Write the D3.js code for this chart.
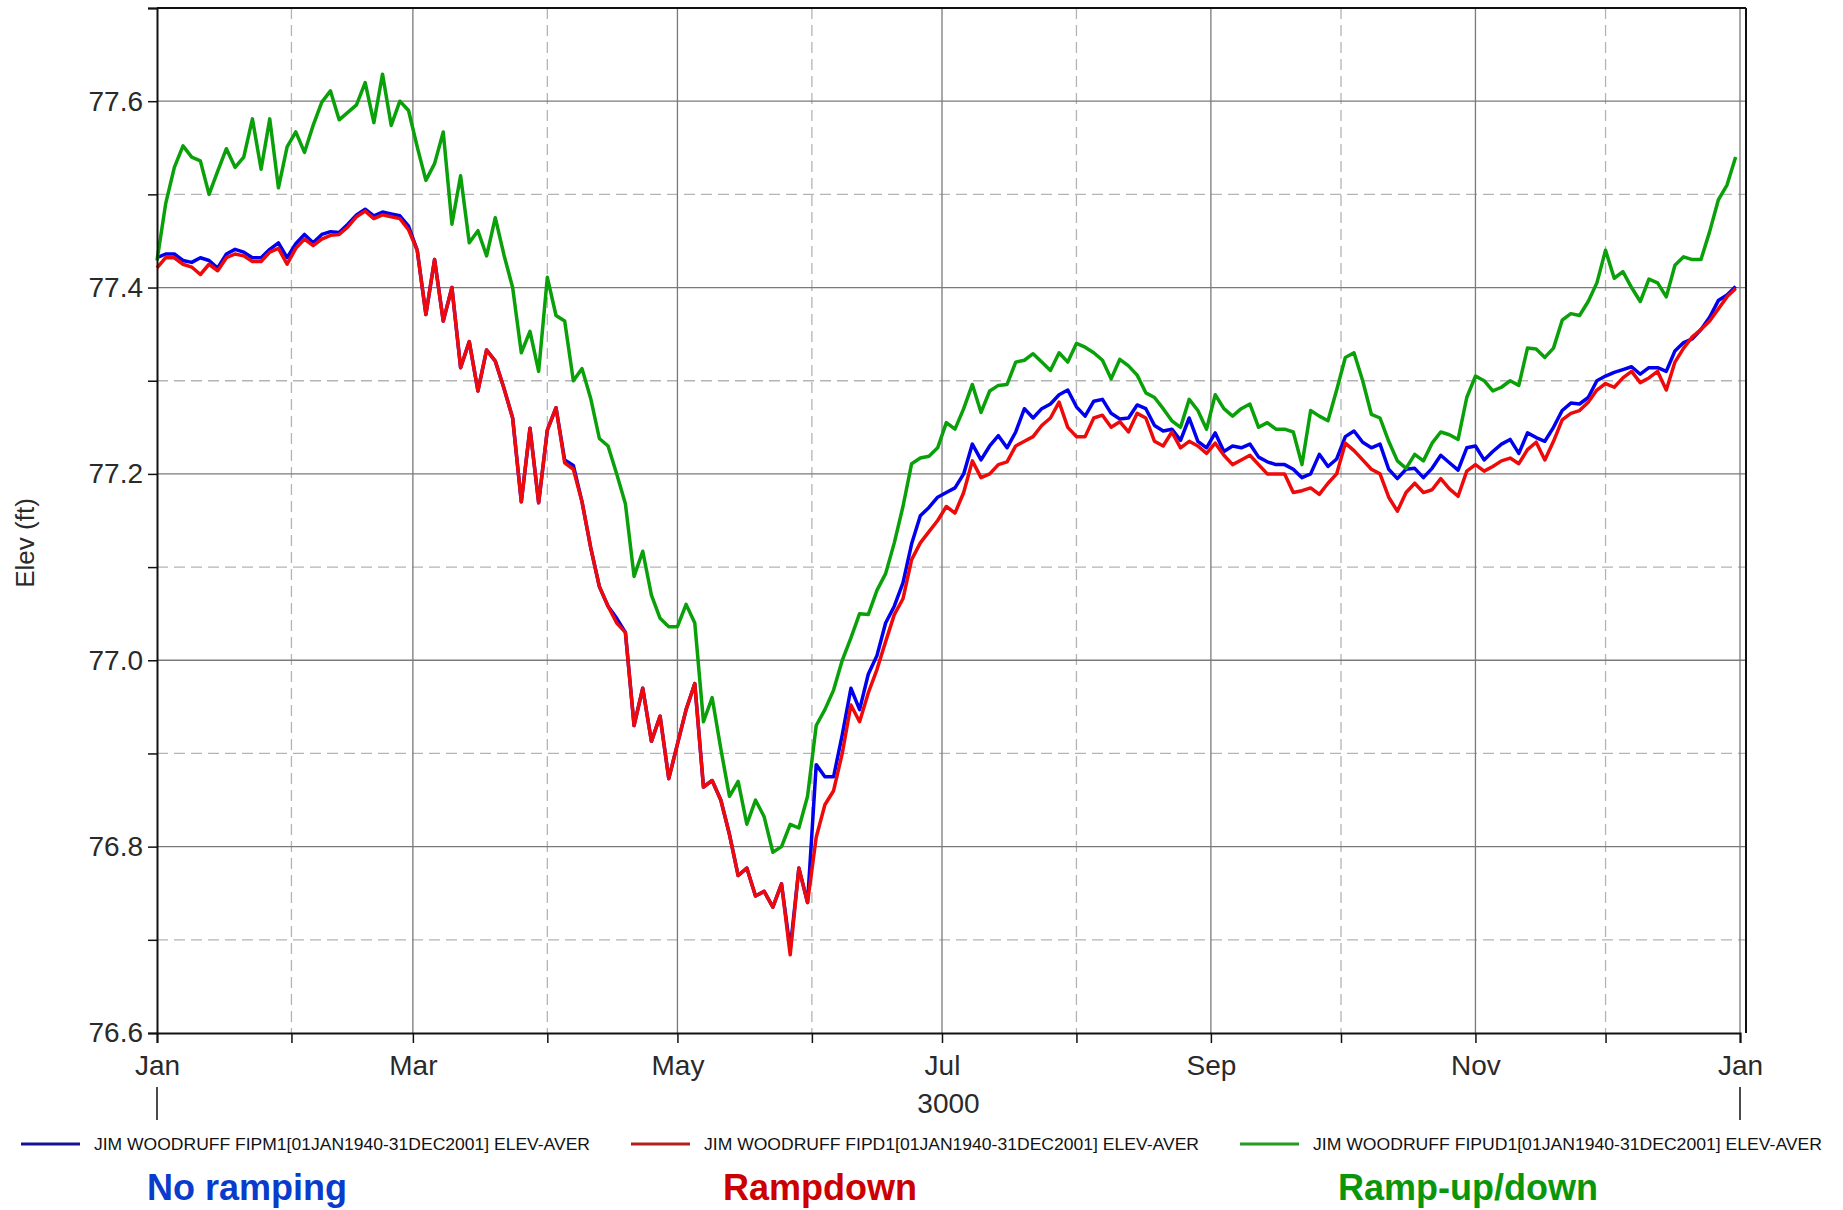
<!DOCTYPE html>
<html lang="en">
<head>
    <meta charset="UTF-8">
    <title>Jim Woodruff elevation</title>
    <script src="https://d3js.org/d3.v7.min.js"></script>

    <style>
        body {
            margin: 0;
            background: #ffffff;
            font-family: "Liberation Sans", Arial, sans-serif;
        }

        svg {
            display: block;
        }

        .tick text {
            font-size: 28px;
            fill: #2a2a2a;
        }
    </style>
</head>
<body>

    <div id="container"></div>

    <script>

        // ---- data (one value every 2 days, 01Jan..31Dec) ----
        const startDate = new Date(3000, 0, 1);
        const dayStep = 2;

        // No ramping (FIPM1)
        const noRamping = [
            77.432, 77.436, 77.436, 77.429, 77.427, 77.432, 77.429, 77.421, 77.436, 77.441,
            77.438, 77.432, 77.432, 77.441, 77.448, 77.432, 77.447, 77.457, 77.448, 77.457,
            77.460, 77.459, 77.468, 77.478, 77.484, 77.477, 77.481, 77.479, 77.477, 77.466,
            77.440, 77.371, 77.430, 77.364, 77.400, 77.314, 77.342, 77.289, 77.333, 77.321,
            77.292, 77.260, 77.170, 77.249, 77.169, 77.247, 77.271, 77.215, 77.209, 77.170,
            77.121, 77.079, 77.058, 77.045, 77.030, 76.930, 76.970, 76.913, 76.940, 76.873,
            76.910, 76.947, 76.975, 76.864, 76.871, 76.850, 76.813, 76.769, 76.777, 76.747,
            76.752, 76.735, 76.760, 76.690, 76.777, 76.740, 76.888, 76.875, 76.875, 76.920,
            76.970, 76.947, 76.985, 77.005, 77.040, 77.058, 77.083, 77.125, 77.155, 77.164,
            77.175, 77.180, 77.185, 77.200, 77.232, 77.215, 77.230, 77.241, 77.228, 77.245,
            77.270, 77.260, 77.270, 77.275, 77.285, 77.290, 77.272, 77.262, 77.278, 77.280,
            77.265, 77.259, 77.260, 77.274, 77.270, 77.252, 77.246, 77.248, 77.236, 77.260,
            77.235, 77.228, 77.244, 77.224, 77.230, 77.228, 77.232, 77.218, 77.213, 77.210,
            77.210, 77.205, 77.196, 77.200, 77.221, 77.208, 77.216, 77.240, 77.246, 77.234,
            77.228, 77.232, 77.205, 77.195, 77.205, 77.206, 77.196, 77.206, 77.220, 77.212,
            77.204, 77.228, 77.230, 77.215, 77.224, 77.232, 77.237, 77.222, 77.244, 77.239,
            77.235, 77.250, 77.268, 77.276, 77.275, 77.282, 77.300, 77.305, 77.309, 77.312,
            77.315, 77.307, 77.314, 77.314, 77.310, 77.332, 77.341, 77.345, 77.355, 77.368,
            77.386, 77.392, 77.401
        ];

        // Rampdown (FIPD1)
        const rampdown = [
            77.421, 77.432, 77.432, 77.425, 77.422, 77.414, 77.425, 77.418, 77.432, 77.436,
            77.434, 77.428, 77.428, 77.438, 77.442, 77.425, 77.442, 77.452, 77.445, 77.452,
            77.456, 77.457, 77.465, 77.476, 77.482, 77.474, 77.478, 77.476, 77.474, 77.462,
            77.440, 77.371, 77.430, 77.364, 77.400, 77.314, 77.342, 77.289, 77.333, 77.321,
            77.292, 77.260, 77.170, 77.249, 77.169, 77.247, 77.271, 77.212, 77.205, 77.170,
            77.121, 77.079, 77.058, 77.040, 77.030, 76.930, 76.970, 76.913, 76.940, 76.873,
            76.910, 76.947, 76.975, 76.864, 76.871, 76.850, 76.813, 76.769, 76.777, 76.747,
            76.752, 76.735, 76.760, 76.684, 76.777, 76.740, 76.810, 76.845, 76.860, 76.900,
            76.952, 76.934, 76.965, 76.990, 77.020, 77.049, 77.066, 77.108, 77.126, 77.138,
            77.150, 77.165, 77.158, 77.180, 77.214, 77.196, 77.200, 77.210, 77.213, 77.230,
            77.235, 77.240, 77.252, 77.260, 77.277, 77.250, 77.240, 77.240, 77.260, 77.263,
            77.250, 77.256, 77.245, 77.265, 77.260, 77.235, 77.230, 77.245, 77.228, 77.235,
            77.230, 77.222, 77.233, 77.220, 77.210, 77.215, 77.220, 77.210, 77.200, 77.200,
            77.200, 77.180, 77.182, 77.185, 77.178, 77.190, 77.200, 77.233, 77.225, 77.215,
            77.205, 77.200, 77.175, 77.160, 77.180, 77.190, 77.180, 77.183, 77.195, 77.184,
            77.176, 77.203, 77.210, 77.203, 77.208, 77.214, 77.217, 77.211, 77.226, 77.234,
            77.215, 77.235, 77.258, 77.265, 77.268, 77.277, 77.290, 77.297, 77.293, 77.303,
            77.310, 77.298, 77.303, 77.310, 77.290, 77.320, 77.335, 77.347, 77.355, 77.364,
            77.377, 77.390, 77.399
        ];

        // Ramp-up/down (FIPUD1)
        const rampUpDown = [
            77.429, 77.490, 77.529, 77.552, 77.540, 77.536, 77.500, 77.525, 77.549, 77.529,
            77.540, 77.581, 77.527, 77.581, 77.507, 77.551, 77.567, 77.545, 77.574, 77.599,
            77.611, 77.580, 77.588, 77.596, 77.620, 77.577, 77.629, 77.574, 77.600, 77.590,
            77.551, 77.515, 77.533, 77.567, 77.468, 77.520, 77.448, 77.461, 77.434, 77.475,
            77.435, 77.400, 77.330, 77.353, 77.310, 77.411, 77.370, 77.364, 77.300, 77.313,
            77.281, 77.238, 77.230, 77.200, 77.168, 77.090, 77.117, 77.070, 77.045, 77.036,
            77.036, 77.060, 77.040, 76.934, 76.960, 76.905, 76.854, 76.870, 76.824, 76.850,
            76.832, 76.794, 76.800, 76.824, 76.820, 76.854, 76.930, 76.947, 76.968, 77.000,
            77.024, 77.050, 77.049, 77.075, 77.093, 77.126, 77.165, 77.211, 77.217, 77.219,
            77.228, 77.255, 77.248, 77.270, 77.296, 77.266, 77.289, 77.295, 77.296, 77.320,
            77.322, 77.329, 77.320, 77.311, 77.330, 77.320, 77.340, 77.336, 77.330, 77.322,
            77.302, 77.323, 77.316, 77.306, 77.287, 77.282, 77.270, 77.257, 77.250, 77.280,
            77.268, 77.248, 77.285, 77.270, 77.262, 77.270, 77.275, 77.250, 77.255, 77.248,
            77.248, 77.245, 77.210, 77.268, 77.262, 77.257, 77.290, 77.325, 77.330, 77.300,
            77.264, 77.260, 77.235, 77.214, 77.206, 77.221, 77.214, 77.233, 77.245, 77.242,
            77.237, 77.282, 77.305, 77.300, 77.289, 77.293, 77.300, 77.295, 77.335, 77.334,
            77.325, 77.335, 77.365, 77.372, 77.370, 77.385, 77.405, 77.440, 77.410, 77.417,
            77.400, 77.385, 77.409, 77.405, 77.390, 77.424, 77.433, 77.430, 77.430, 77.460,
            77.494, 77.510, 77.540
        ];

        const seriesNames = [
            'JIM WOODRUFF FIPM1[01JAN1940-31DEC2001] ELEV-AVER',
            'JIM WOODRUFF FIPD1[01JAN1940-31DEC2001] ELEV-AVER',
            'JIM WOODRUFF FIPUD1[01JAN1940-31DEC2001] ELEV-AVER'
        ];
        const captions = ['No ramping', 'Rampdown', 'Ramp-up/down'];

        // tick values
        const yLabelTicks = [76.6, 76.8, 77.0, 77.2, 77.4, 77.6];
        const yMinorTicks = [76.7, 76.9, 77.1, 77.3, 77.5, 77.7];
        const xLabelMonths = [0, 2, 4, 6, 8, 10, 12];
        const xMinorMonths = [1, 3, 5, 7, 9, 11];
        const yearLabel = '3000';

        // ---- layout ----
        const width = 1843, height = 1210;
        const plotLeft = 157, plotRight = 1740, frameRight = 1746;
        const plotTop = 8, plotBottom = 1033;

        const svg = d3.select('#container').append('svg')
            .attr('width', width)
            .attr('height', height);

        svg.append('rect')
            .attr('width', width).attr('height', height)
            .attr('fill', '#ffffff');

        // scales
        const x = d3.scaleTime()
            .domain([startDate, new Date(3001, 0, 1)])
            .range([plotLeft, plotRight]);

        const y = d3.scaleLinear()
            .domain([76.6, 77.7])
            .range([plotBottom, plotTop]);

        const monthDate = m => new Date(3000, m, 1);

        // grid - dashed ones first, then solid
        const grid = svg.append('g');

        grid.selectAll('.hdash')
            .data(yMinorTicks.filter(v => v < 77.7))
            .enter().append('line')
            .attr('x1', plotLeft).attr('x2', frameRight)
            .attr('y1', d => y(d)).attr('y2', d => y(d))
            .attr('stroke', '#b4b4b4').attr('stroke-width', 1.3)
            .attr('stroke-dasharray', '11,6');

        grid.selectAll('.vdash')
            .data(xMinorMonths)
            .enter().append('line')
            .attr('x1', d => x(monthDate(d))).attr('x2', d => x(monthDate(d)))
            .attr('y1', plotTop).attr('y2', plotBottom)
            .attr('stroke', '#b4b4b4').attr('stroke-width', 1.3)
            .attr('stroke-dasharray', '11,6');

        grid.selectAll('.hsolid')
            .data(yLabelTicks.filter(v => v > 76.6))
            .enter().append('line')
            .attr('x1', plotLeft).attr('x2', frameRight)
            .attr('y1', d => y(d)).attr('y2', d => y(d))
            .attr('stroke', '#7a7a7a').attr('stroke-width', 1.3);

        grid.selectAll('.vsolid')
            .data(xLabelMonths.filter(m => m > 0))
            .enter().append('line')
            .attr('x1', d => x(monthDate(d))).attr('x2', d => x(monthDate(d)))
            .attr('y1', plotTop).attr('y2', plotBottom)
            .attr('stroke', '#7a7a7a').attr('stroke-width', 1.3);

        // series
        const series = [
            { values: noRamping, color: '#0000ee', legend: '#141496', caption: '#0a3ccc' },
            { values: rampdown, color: '#ee0a0a', legend: '#b41e1e', caption: '#cc0000' },
            { values: rampUpDown, color: '#0aa00a', legend: '#259a25', caption: '#0a960a' }
        ];

        const line = d3.line()
            .x(d => x(d.date))
            .y(d => y(d.v));

        series.forEach(s => {
            const pts = s.values.map((v, i) => ({
                date: d3.timeDay.offset(startDate, i * dayStep),
                v: v
            }));
            svg.append('path')
                .datum(pts)
                .attr('d', line)
                .attr('fill', 'none')
                .attr('stroke', s.color)
                .attr('stroke-width', 3.5)
                .attr('stroke-linejoin', 'round');
        });

        // frame (top + right)
        svg.append('line')
            .attr('x1', plotLeft).attr('x2', frameRight)
            .attr('y1', plotTop).attr('y2', plotTop)
            .attr('stroke', '#111').attr('stroke-width', 2);
        svg.append('line')
            .attr('x1', frameRight).attr('x2', frameRight)
            .attr('y1', plotTop).attr('y2', plotBottom)
            .attr('stroke', '#111').attr('stroke-width', 2);

        // y axis
        svg.append('g')
            .attr('transform', `translate(${plotLeft},0)`)
            .call(d3.axisLeft(y)
                .tickValues(yLabelTicks)
                .tickFormat(d3.format('.1f'))
                .tickSize(9)
                .tickPadding(5));
        svg.append('g')
            .attr('transform', `translate(${plotLeft},0)`)
            .call(d3.axisLeft(y).tickValues(yMinorTicks).tickFormat('').tickSize(9))
            .select('.domain').remove();

        // x axis
        svg.append('g')
            .attr('transform', `translate(0,${plotBottom})`)
            .call(d3.axisBottom(x)
                .tickValues(xLabelMonths.map(monthDate))
                .tickFormat(d3.timeFormat('%b'))
                .tickSize(10)
                .tickPadding(12));
        svg.append('g')
            .attr('transform', `translate(0,${plotBottom})`)
            .call(d3.axisBottom(x).tickValues(xMinorMonths.map(monthDate)).tickFormat('').tickSize(10))
            .select('.domain').remove();

        svg.selectAll('.domain').attr('stroke', '#111').attr('stroke-width', 2);
        svg.selectAll('.tick line').attr('stroke', '#111').attr('stroke-width', 1.5);

        // year label and year separators
        svg.append('text')
            .attr('x', (plotLeft + plotRight) / 2)
            .attr('y', 1113)
            .attr('text-anchor', 'middle')
            .attr('font-size', 28)
            .attr('fill', '#2a2a2a')
            .text(yearLabel);

        [startDate, new Date(3001, 0, 1)].forEach(dt => {
            svg.append('line')
                .attr('x1', x(dt)).attr('x2', x(dt))
                .attr('y1', 1087).attr('y2', 1120)
                .attr('stroke', '#111').attr('stroke-width', 1.5);
        });

        // y axis title
        svg.append('text')
            .attr('transform', 'translate(34,543) rotate(-90)')
            .attr('text-anchor', 'middle')
            .attr('font-size', 26)
            .attr('fill', '#2a2a2a')
            .text('Elev (ft)');

        // legend
        const legendX = [21, 631, 1240];
        const legendTextEnd = [590, 1199, 1822];
        const legendY = 1144;

        series.forEach((s, i) => {
            svg.append('line')
                .attr('x1', legendX[i]).attr('x2', legendX[i] + 59)
                .attr('y1', legendY).attr('y2', legendY)
                .attr('stroke', s.legend).attr('stroke-width', 3);
            svg.append('text')
                .attr('x', legendX[i] + 73)
                .attr('y', legendY + 6)
                .attr('font-size', 16)
                .attr('fill', '#111')
                .attr('textLength', legendTextEnd[i] - legendX[i] - 73)
                .attr('lengthAdjust', 'spacingAndGlyphs')
                .text(seriesNames[i]);
        });

        // captions under the legend
        const captionX = [247, 820, 1468];
        series.forEach((s, i) => {
            svg.append('text')
                .attr('x', captionX[i])
                .attr('y', 1200)
                .attr('text-anchor', 'middle')
                .attr('font-size', 36)
                .attr('font-weight', 'bold')
                .attr('fill', s.caption)
                .text(captions[i]);
        });

    </script>

</body>
</html>
